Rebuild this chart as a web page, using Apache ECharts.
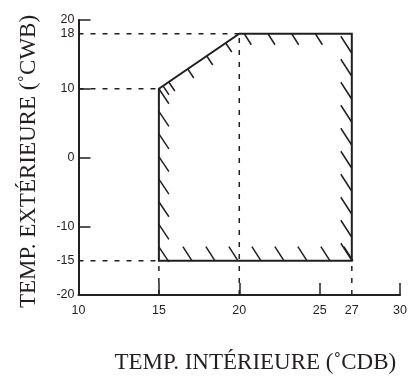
<!DOCTYPE html>
<html><head><meta charset="utf-8">
<script src="https://cdn.jsdelivr.net/npm/echarts@6/dist/echarts.min.js"></script>
<style>html,body{margin:0;padding:0;background:#fff}#c{width:410px;height:379px}</style>
</head><body><div id="c"></div>
<script>
// Operating envelope (indoor dry bulb vs outdoor wet bulb)
const polyX = [15, 15, 20, 27, 27];
const polyY = [-15, 10, 18, 18, -15];
// Dashed reference lines (start / end points)
const guideFrom = [[10, 18], [10, 10], [10, -15], [15, -20], [20, -20], [27, -20]];
const guideTo   = [[20, 18], [15, 10], [15, -15], [15, -15], [20, 18], [27, -15]];
// Axis labels and ticks
const xLabels = [10, 15, 20, 25, 27, 30];
const xTicks = [15, 20, 25, 30];
const yLabels = [-20, -15, -10, 0, 10, 18, 20];
const yTicks = [-10, 0, 10, 20];
const xName = 'TEMP. INTÉRIEURE (˚CDB)';
const yName = 'TEMP. EXTÉRIEURE (˚CWB)';

const INK = '#231f20';
// hatch styling per edge
const hatchStyle = [
  {a: 1, b: 0, start: 0, step: 22.6, n: 8, v: [10, 15], anchor: 'start'},
  {a: 1, b: 2, list: [5, 12, 35, 58, 81], v: [6, 9], anchor: 'start'},
  {a: 2, b: 3, start: 5, step: 23.7, n: 4, v: [7, 11], anchor: 'start'},
  {a: 3, b: 4, start: 19.5, step: 23, n: 10, v: [11, 17], anchor: 'end'},
  {a: 0, b: 4, start: 33, step: 23, n: 8, v: [9, 14], anchor: 'end'}
];

const chart = echarts.init(document.getElementById('c'), null, {renderer: 'canvas'});
chart.setOption({
  animation: false,
  backgroundColor: '#fff',
  grid: {left: 78.5, right: 9.5, top: 20, bottom: 84},
  xAxis: {
    type: 'value', min: 10, max: 30,
    name: xName, nameLocation: 'middle', nameGap: 56,
    nameTextStyle: {fontFamily: 'Liberation Serif', fontSize: 23, color: INK, padding: [0, 0, 0, 32]},
    axisLine: {onZero: false, lineStyle: {color: INK, width: 2}},
    axisTick: {customValues: xTicks, inside: true, length: 12, lineStyle: {color: INK, width: 1.5}},
    axisLabel: {customValues: xLabels, color: INK, fontFamily: 'Liberation Sans', fontSize: 12.5, margin: 9},
    splitLine: {show: false}
  },
  yAxis: {
    type: 'value', min: -20, max: 20,
    name: yName, nameLocation: 'middle', nameGap: 38, nameRotate: 90,
    nameTextStyle: {fontFamily: 'Liberation Serif', fontSize: 23, color: INK, padding: [0, 8, 0, 0]},
    axisLine: {onZero: false, lineStyle: {color: INK, width: 2}},
    axisTick: {customValues: yTicks, inside: true, length: 12, lineStyle: {color: INK, width: 1.5}},
    axisLabel: {customValues: yLabels, color: INK, fontFamily: 'Liberation Sans', fontSize: 12.5, margin: 4},
    splitLine: {show: false}
  },
  series: [{
    type: 'custom',
    clip: false,
    data: [[0]],
    renderItem: function (params, api) {
      const pts = polyX.map((x, i) => api.coord([x, polyY[i]]));
      const children = [];
      guideFrom.forEach((f, i) => {
        const p = api.coord(f), q = api.coord(guideTo[i]);
        children.push({type: 'line', shape: {x1: p[0], y1: p[1], x2: q[0], y2: q[1]},
          style: {stroke: INK, lineWidth: 1.5, lineDash: [5, 7]}});
      });
      hatchStyle.forEach(h => {
        const A = pts[h.a], B = pts[h.b];
        const len = Math.hypot(B[0] - A[0], B[1] - A[1]);
        const ux = (B[0] - A[0]) / len, uy = (B[1] - A[1]) / len;
        const offs = h.list || Array.from({length: h.n}, (_, k) => h.start + k * h.step);
        offs.forEach(t => {
          const px = A[0] + ux * t, py = A[1] + uy * t;
          let x1, y1, x2, y2;
          if (h.anchor === 'start') { x1 = px; y1 = py; x2 = px + h.v[0]; y2 = py + h.v[1]; }
          else { x1 = px - h.v[0]; y1 = py - h.v[1]; x2 = px; y2 = py; }
          children.push({type: 'line', shape: {x1, y1, x2, y2}, style: {stroke: INK, lineWidth: 1.5}});
        });
      });
      children.push({type: 'polygon', shape: {points: pts}, style: {fill: 'none', stroke: INK, lineWidth: 2}});
      return {type: 'group', children};
    }
  }]
});
</script></body></html>
